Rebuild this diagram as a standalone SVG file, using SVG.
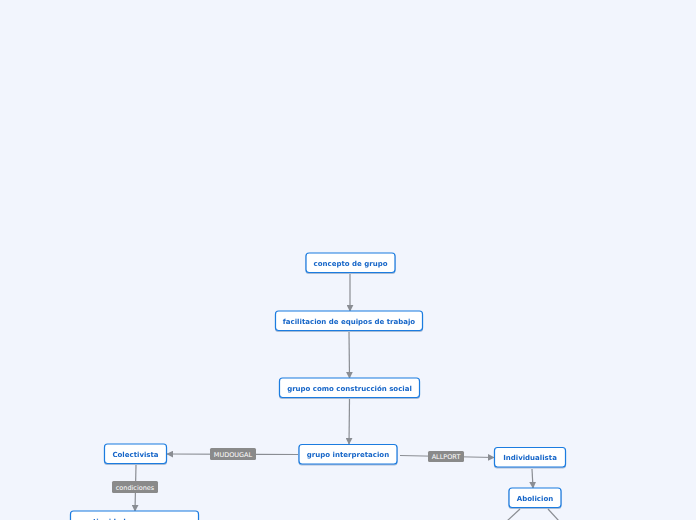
<svg xmlns="http://www.w3.org/2000/svg" width="696" height="520" viewBox="0 0 696 520">
<defs>
<style>
.n rect{fill:#ffffff;stroke:#1a7be0;stroke-width:1.2}
.n text{font-family:"DejaVu Sans",Verdana,sans-serif;font-weight:bold;font-size:7px;fill:#1565c8;text-anchor:middle}
.e line{stroke:#8a8d93;stroke-width:1.2}
.lb rect{fill:#8a8a8a}
.lb text{font-family:"DejaVu Sans",Verdana,sans-serif;font-size:6.5px;fill:#ffffff;text-anchor:middle}
</style>
<marker id="ar" viewBox="0 0 10 10" refX="9" refY="5" markerWidth="7" markerHeight="7" markerUnits="userSpaceOnUse" orient="auto">
<path d="M0,0 L10,5 L0,10 Z" fill="#8a8d93"/>
</marker>
<filter id="sh" x="-10%" y="-20%" width="120%" height="150%"><feDropShadow dx="0" dy="1" stdDeviation="0.6" flood-color="#1a4f8a" flood-opacity="0.35"/></filter>
</defs>
<rect width="696" height="520" fill="#f2f5fd"/>
<g id="connectors" class="e">
<line x1="350" y1="274" x2="350" y2="311" marker-end="url(#ar)"/>
<line x1="349" y1="332" x2="349.5" y2="378" marker-end="url(#ar)"/>
<line x1="349.5" y1="399" x2="349" y2="444" marker-end="url(#ar)"/>
<line x1="298" y1="454.5" x2="167" y2="454" marker-end="url(#ar)"/>
<line x1="400" y1="455.5" x2="494" y2="457.5" marker-end="url(#ar)"/>
<line x1="136" y1="465" x2="135" y2="511" marker-end="url(#ar)"/>
<line x1="532" y1="469" x2="533" y2="488" marker-end="url(#ar)"/>
<line x1="520" y1="509" x2="507" y2="521"/>
<line x1="548" y1="509" x2="559" y2="521"/>
<g class="lb">
<rect x="210" y="448" width="46" height="12" rx="1.5"/><text x="233" y="456.5">MUDOUGAL</text>
<rect x="428" y="451" width="36" height="11" rx="1.5"/><text x="446" y="459">ALLPORT</text>
<rect x="112" y="481" width="46" height="12" rx="1.5"/><text x="135" y="489.5">condiciones</text>
</g>
</g>
<g id="n1" class="n" filter="url(#sh)"><rect x="306" y="253" width="89" height="19.5" rx="3"/><text x="350.5" y="265.5">concepto de grupo</text></g>
<g id="n2" class="n" filter="url(#sh)"><rect x="275.5" y="311" width="147" height="19.5" rx="3"/><text x="349" y="323.5">facilitacion de equipos de trabajo</text></g>
<g id="n3" class="n" filter="url(#sh)"><rect x="279.5" y="378" width="140" height="19.5" rx="3"/><text x="349.5" y="390.5">grupo como construcción social</text></g>
<g id="n4" class="n" filter="url(#sh)"><rect x="299" y="444.5" width="98" height="19.5" rx="3"/><text x="348" y="457">grupo interpretacion</text></g>
<g id="n5" class="n" filter="url(#sh)"><rect x="104.5" y="444" width="62" height="19.5" rx="3"/><text x="135.5" y="456.5">Colectivista</text></g>
<g id="n6" class="n" filter="url(#sh)"><rect x="494.5" y="447.5" width="71" height="19.5" rx="3"/><text x="530" y="460">Individualista</text></g>
<g id="n7" class="n" filter="url(#sh)"><rect x="509" y="488" width="52" height="19.5" rx="3"/><text x="535" y="500.5">Abolicion</text></g>
<g id="n8" class="n" filter="url(#sh)"><rect x="70.5" y="511" width="128" height="19.5" rx="3"/><text x="79" y="523.5" style="text-anchor:start">continuidad</text></g>
</svg>
